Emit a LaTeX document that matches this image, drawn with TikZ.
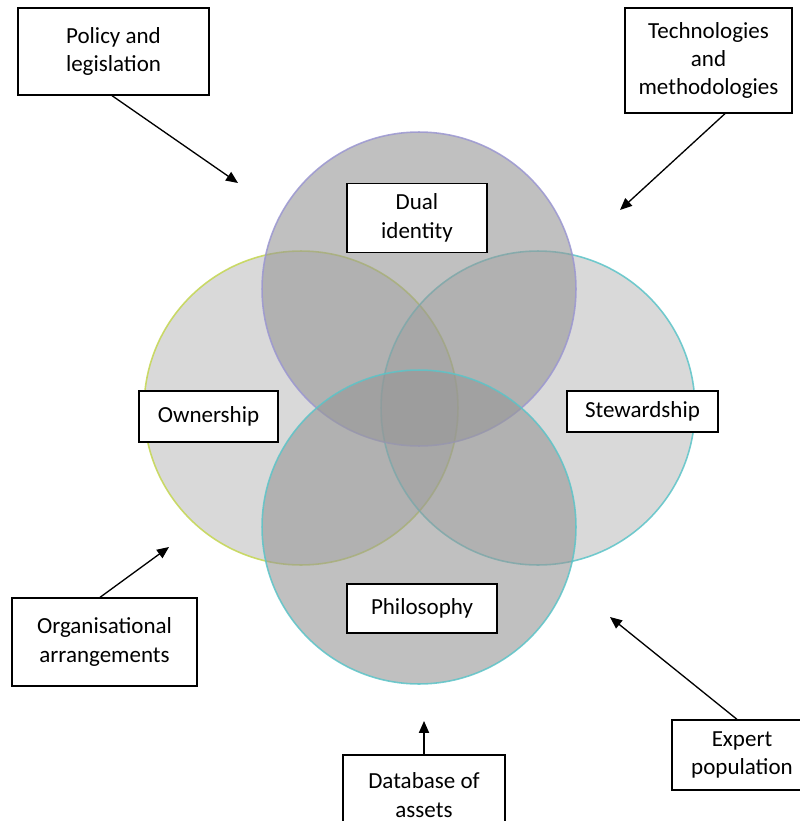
\documentclass[tikz,border=0pt]{standalone}
\usepackage{fontspec}
\setmainfont{Carlito}
\usetikzlibrary{arrows.meta,positioning}
\definecolor{vennpurple}{RGB}{155,151,209}
\definecolor{venngreen}{RGB}{196,214,80}
\definecolor{vennteal}{RGB}{92,196,200}
\tikzset{
 venn set/.style={fill=black!41,line width=0.9pt,draw opacity=.85},
 venn box/.style={draw=black,fill=white,line width=0.75pt,align=center,
                  inner sep=2pt,font=\fontsize{13.1}{16.2}\selectfont},
 venn arrow/.style={line width=0.75pt,-{Triangle[length=6.8pt,width=5.8pt]}}
}

\begin{document}
\begin{tikzpicture}[x=0.02cm,y=-0.02cm]
 \useasboundingbox (0,0) rectangle (800,821);
 \coordinate (ctop) at (419,289);
 \coordinate (cleft) at (301,408);
 \coordinate (cright) at (538,408);
 \coordinate (cbottom) at (419,527);

 \path[venn set,fill opacity=.36,draw=venngreen] (cleft) circle[radius=3.14cm];
 \path[venn set,fill opacity=.36,draw=vennteal] (cright) circle[radius=3.14cm];
 \path[venn set,fill opacity=.6,draw=vennpurple] (ctop) circle[radius=3.14cm];
 \path[venn set,fill opacity=.6,draw=vennteal] (cbottom) circle[radius=3.14cm];

 \node[venn box,minimum width=2.8cm,minimum height=1.38cm] (dual) at (417,218) {Dual\\identity};
 \node[venn box,minimum width=2.78cm,minimum height=1.02cm] (ownership) at (208.5,416.5) {Ownership};
 \node[venn box,minimum width=3.02cm,minimum height=0.82cm] (stewardship) at (642.5,411.5) {Stewardship};
 \node[venn box,minimum width=3.0cm,minimum height=0.98cm] (philosophy) at (422,608.5) {Philosophy};

 \node[venn box,minimum width=3.82cm,minimum height=1.74cm] (policy) at (113.5,51.5) {Policy and\\legislation};
 \node[venn box,minimum width=3.34cm,minimum height=2.1cm] (tech) at (708.5,60.5) {Technologies\\and\\methodologies};
 \node[venn box,minimum width=3.7cm,minimum height=1.76cm] (organisation) at (104.5,642) {Organisational\\arrangements};
 \node[venn box,minimum width=2.8cm,minimum height=1.4cm] (expert) at (742,755) {Expert\\population};
 \node[venn box,minimum width=3.24cm,minimum height=1.6cm] (database) at (424,795) {Database of\\assets};

 \coordinate (policy tip) at (238,183);
 \coordinate (tech tip) at (620,210);
 \coordinate (organisation tip) at (169,547);
 \coordinate (expert tip) at (610,617);
 \coordinate (database tip) at (424,721);

 \draw[venn arrow] ([xshift=-0.03cm]policy.south) -- (policy tip);
 \draw[venn arrow] ([xshift=0.33cm]tech.south) -- (tech tip);
 \draw[venn arrow] ([xshift=-0.09cm]organisation.north) -- (organisation tip);
 \draw[venn arrow] ([xshift=-0.1cm]expert.north) -- (expert tip);
 \draw[venn arrow] (database.north) -- (database tip);
\end{tikzpicture}
\end{document}
